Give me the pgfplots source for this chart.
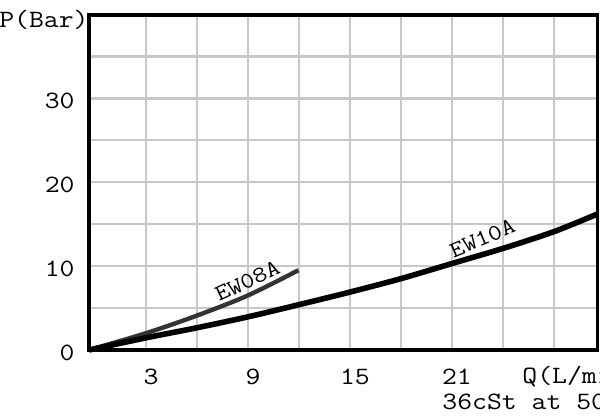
\documentclass[border=0pt]{standalone}
\usepackage{pgfplots}
\pgfplotsset{compat=1.18}
\usepackage{fontspec}
\setmainfont{Latin Modern Mono}[FakeStretch=1.16]

\definecolor{gridgray}{HTML}{C8C8C8}
\definecolor{curvegray}{HTML}{333333}

\begin{document}
\begin{tikzpicture}
\begin{axis}[
  scale only axis,
  width=254.25bp, height=167.5bp,
  xmin=-0.35, xmax=29.56,
  ymin=0, ymax=39.9,
  xtick={3,6,...,27},
  xticklabels={3,,9,,15,,21,,},
  ytick={0,5,...,35},
  yticklabels={0,,10,,20,,30,},
  major tick length=0pt,
  grid=major,
  major grid style={gridgray, line width=1.4bp},
  axis line style={black, line width=1.75bp},
  tick label style={font=\fontsize{12.5}{14}\selectfont, inner sep=0pt},
  xticklabel style={anchor=center, yshift=-13.5bp, xshift=2.5bp},
  yticklabel style={anchor=east, xshift=-7bp, yshift=-1.5bp},
  /pgf/number format/assume math mode=true,
  clip=false,
]
\coordinate (O) at (rel axis cs:0,0);

% EW08A
\addplot[curvegray, line width=2.2bp, smooth] coordinates {
  (-0.35,0) (3,2.0) (6,4.1) (9,6.5) (11.97,9.5)
};
% EW10A
\addplot[black, line width=2.8bp, smooth] coordinates {
  (-0.35,0) (3,1.45) (6,2.65) (9,3.95) (12,5.4) (15,6.9) (18,8.5)
  (21,10.3) (24,12.1) (27,14.1) (29.56,16.2)
};

\node[rotate=25, font=\fontsize{11.5}{13}\selectfont, inner sep=0pt]
  at (axis cs:8.97,8.2) {EW08A};
\node[rotate=23, font=\fontsize{11.5}{13}\selectfont, inner sep=0pt]
  at (axis cs:22.79,13.3) {EW10A};

\node[anchor=east, inner sep=0pt, font=\fontsize{12.5}{14}\selectfont]
  at ([xshift=0bp,yshift=-2.5bp]rel axis cs:0,1) {P(Bar)};
\node[anchor=west, inner sep=0pt, font=\fontsize{12.5}{14}\selectfont]
  at ([xshift=216.5bp,yshift=-13.5bp]rel axis cs:0,0) {Q(L/min)};
\node[anchor=west, inner sep=0pt, font=\fontsize{12.5}{14}\selectfont]
  at ([xshift=176.5bp,yshift=-26bp]rel axis cs:0,0) {36cSt at 50°C};
\end{axis}
\pgfresetboundingbox
\useasboundingbox ([xshift=-44.5bp,yshift=-33bp]O) rectangle ++(300bp,208bp);
\end{tikzpicture}
\end{document}
